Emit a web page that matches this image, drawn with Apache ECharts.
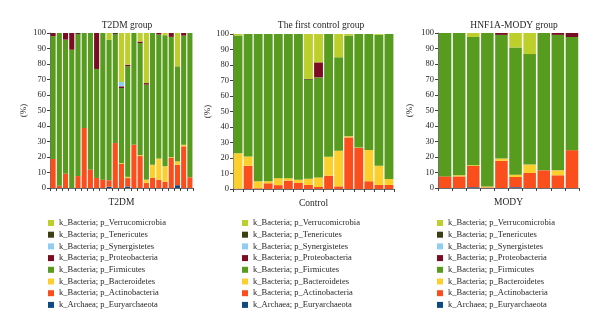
<!DOCTYPE html>
<html>
<head>
<meta charset="utf-8">
<script src="https://cdn.jsdelivr.net/npm/echarts@6/dist/echarts.min.js"></script>
<style>html,body{margin:0;padding:0;background:#fff}#c{width:600px;height:329px}</style>
</head>
<body>
<div id="c"></div>
<script>
// ---- categories ----
var t2dmSamples = ['T1','T2','T3','T4','T5','T6','T7','T8','T9','T10','T11','T12','T13','T14','T15','T16','T17','T18','T19','T20','T21','T22','T23'];
var controlSamples = ['C1','C2','C3','C4','C5','C6','C7','C8','C9','C10','C11','C12','C13','C14','C15','C16'];
var modySamples = ['M1','M2','M3','M4','M5','M6','M7','M8','M9','M10'];
var yTicks = [0,10,20,30,40,50,60,70,80,90,100];

// ---- phyla (legend order, top to bottom) ----
var phyla = [
  'k_Bacteria; p_Verrucomicrobia',
  'k_Bacteria; p_Tenericutes',
  'k_Bacteria; p_Synergistetes',
  'k_Bacteria; p_Proteobacteria',
  'k_Bacteria; p_Firmicutes',
  'k_Bacteria; p_Bacteroidetes',
  'k_Bacteria; p_Actinobacteria',
  'k_Archaea; p_Euryarchaeota'
];
var phylaColors = ['#bccf2b','#3b3f12','#8fcdf2','#7a0c24','#579b1f','#fdcf2d','#fa4f1c','#0d4a84'];

// ---- T2DM group (%) ----
var t2dmEury    = [0,0,0,0,0,0,0,0,0,0.8,0,0,1,0,0,0,0,0,0,0,1.8,0,0];
var t2dmActino  = [18.7,1.5,9.2,0,7.7,38.7,11.8,6.5,5.4,4.2,29,15.5,5.4,28,20.6,3.2,6.5,5.4,4,19.4,13.2,26.9,6.9];
var t2dmBacter  = [0,0,0,0,0,0,0,0,0,0,0,0.5,0.8,0,0.6,2.2,8.5,13.6,10,0.4,2.2,1,0];
var t2dmFirm    = [79.3,98.5,86.5,89.2,91.3,61.3,88.2,70.3,94.6,90.5,70,48.5,71.3,72,72.3,61.3,85,80,84.5,77.7,61.3,70.4,93.1];
var t2dmProteo  = [2,0,4.3,10.8,0,0,0,23.2,0,0,0,1.1,1,0,1,1,0,1,0,2.5,0,1.7,0];
var t2dmSynerg  = [0,0,0,0,0,0,0,0,0,0,0,2.8,0,0,0,0,0,0,0,0,0,0,0];
var t2dmTener   = [0,0,0,0,1,0,0,0,0,0,1,0,0,0,0,0,0,0,0,0,0,0,0];
var t2dmVerruco = [0,0,0,0,0,0,0,0,0,4.5,0,31.6,20.5,0,5.5,32.3,0,0,1.5,0,21.5,0,0];

// ---- The first control group (%) ----
var ctrlEury    = [0,0,0,0,0,0,0,0,0,0,0,0,0,0,0,0];
var ctrlActino  = [0.3,15,0.5,3.7,2.5,5.4,3.9,2.6,1.3,8.6,1.7,33.3,26.5,5,2.6,2.6];
var ctrlBacter  = [22.7,6,4.5,1.3,4.5,1.6,2.1,4,6.2,12.2,23,0.7,0.3,20.2,12.4,3.9];
var ctrlFirm    = [76,79,95,95,93,93,94,63.9,64.5,79.2,60.3,65,73.2,74.8,84.5,93.5];
var ctrlProteo  = [0,0,0,0,0,0,0,0,9.7,0,0,0,0,0,0,0];
var ctrlSynerg  = [0,0,0,0,0,0,0,0,0,0,0,0,0,0,0,0];
var ctrlTener   = [0,0,0,0,0,0,0,0.5,0,0,0,0,0,0,0,0];
var ctrlVerruco = [1,0,0,0,0,0,0,29,18.3,0,15,1,0,0,0.5,0];

// ---- HNF1A-MODY group (%) ----
var modyEury    = [0,0,0.5,0,0,0.5,0,0,0,0];
var modyActino  = [7.5,7.5,13.7,0.4,17.5,6.6,9.7,11.4,8.2,24.4];
var modyBacter  = [0,0.7,0.5,0.6,1.5,1.5,5.4,0,3.2,0];
var modyFirm    = [92.5,91.8,82.7,99,79.8,82.1,71.3,88.6,87.4,73];
var modyProteo  = [0,0,0,0,1.2,0,0,0,1.2,2.6];
var modySynerg  = [0,0,0,0,0,0,0,0,0,0];
var modyTener   = [0,0,0,0,0,0,0,0,0,0];
var modyVerruco = [0,0,2.6,0,0,9.3,13.6,0,0,0];

var SERIF = '"Liberation Serif","DejaVu Serif",serif';
var TXT = '#231f20';

var panels = [
  {title:'T2DM group', name:'T2DM', cats:t2dmSamples, gap:'18%',
   grid:{left:50, top:33, width:143, height:155}, titleX:122, yNameGap:22,
   data:[t2dmVerruco,t2dmTener,t2dmSynerg,t2dmProteo,t2dmFirm,t2dmBacter,t2dmActino,t2dmEury], legendX:43},
  {title:'The first control group', name:'Control', cats:controlSamples, gap:'12%',
   grid:{left:233, top:34, width:161, height:155}, titleX:316, yNameGap:20,
   data:[ctrlVerruco,ctrlTener,ctrlSynerg,ctrlProteo,ctrlFirm,ctrlBacter,ctrlActino,ctrlEury], legendX:237},
  {title:'HNF1A-MODY group', name:'MODY', cats:modySamples, gap:'11%',
   grid:{left:438, top:33, width:141, height:155}, titleX:509, yNameGap:24,
   data:[modyVerruco,modyTener,modySynerg,modyProteo,modyFirm,modyBacter,modyActino,modyEury], legendX:432}
];

var option = {
  backgroundColor:'#fff',
  animation:false,
  title:[], grid:[], xAxis:[], yAxis:[], series:[], legend:[]
};

panels.forEach(function(p, gi){
  option.title.push({
    text:p.title, left:p.titleX, top:15, textAlign:'center',
    textStyle:{fontFamily:SERIF, fontSize:9.5, fontWeight:'normal', color:TXT}
  });
  option.grid.push(p.grid);
  option.xAxis.push({
    type:'category', gridIndex:gi, data:p.cats, boundaryGap:true,
    name:p.name, nameLocation:'middle', nameGap:9,
    nameTextStyle:{fontFamily:SERIF, fontSize:9.5, color:TXT},
    axisLine:{lineStyle:{color:'#6d6e71', width:1}},
    axisTick:{show:true, interval:0, length:3, lineStyle:{color:'#414042'}},
    axisLabel:{show:false}, splitLine:{show:false}
  });
  option.yAxis.push({
    type:'value', gridIndex:gi, min:0, max:100, interval:10,
    name:'(%)', nameLocation:'middle', nameGap:p.yNameGap, nameRotate:90,
    nameTextStyle:{fontFamily:SERIF, fontSize:9, color:TXT},
    axisLine:{show:true, lineStyle:{color:'#6d6e71', width:1}},
    axisTick:{show:true, length:3, lineStyle:{color:'#414042'}},
    axisLabel:{fontFamily:SERIF, fontSize:8.5, color:TXT, margin:4,
      formatter:function(v){ return yTicks.indexOf(v) >= 0 ? String(v) : ''; }},
    splitLine:{show:false}
  });
  // stack bottom to top: reverse of legend order
  for (var k = phyla.length - 1; k >= 0; k--) {
    option.series.push({
      type:'bar', name:phyla[k], xAxisIndex:gi, yAxisIndex:gi,
      stack:'s'+gi, data:p.data[k], barCategoryGap:p.gap,
      itemStyle:{color:phylaColors[k]}, emphasis:{disabled:true}
    });
  }
  option.legend.push({
    data:phyla, orient:'vertical', left:p.legendX, top:213,
    icon:'rect', itemWidth:6, itemHeight:6, itemGap:1.7,
    textStyle:{fontFamily:SERIF, fontSize:8.5, color:TXT, lineHeight:10},
    selectedMode:false
  });
});

var chart = echarts.init(document.getElementById('c'), null, {renderer:'canvas'});
chart.setOption(option);
</script>
</body>
</html>
